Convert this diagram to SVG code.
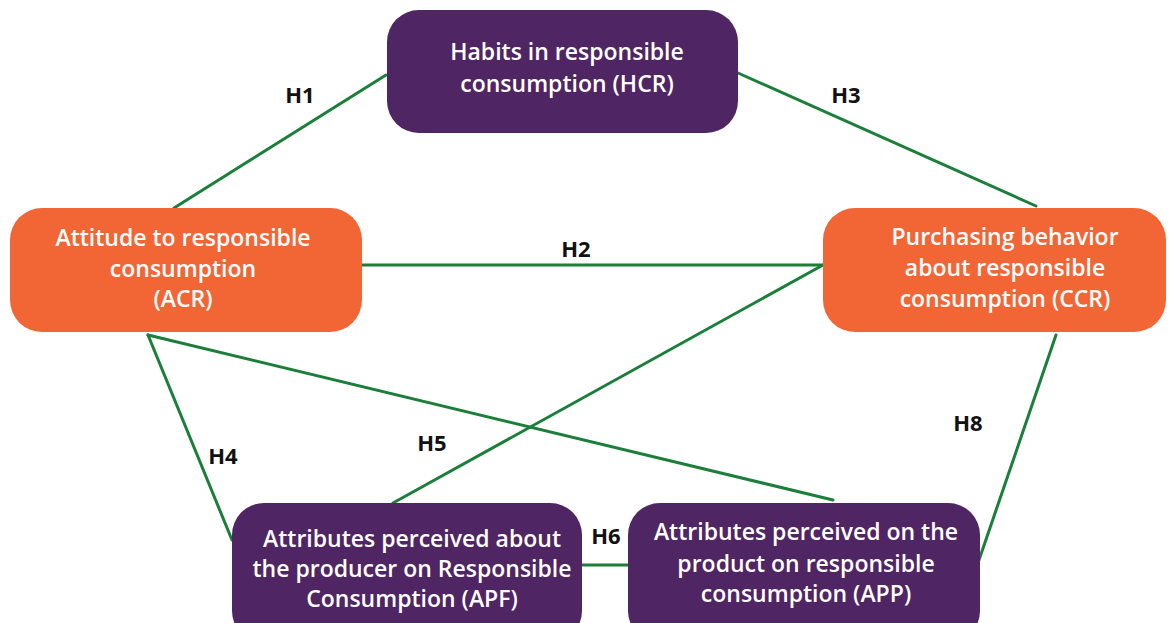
<svg xmlns="http://www.w3.org/2000/svg" width="1169" height="623" viewBox="0 0 1169 623">
  <style>
    .purple { fill: #4F2563; }
    .orange { fill: #F26535; }
    .nt { font-family: "Open Sans", "Liberation Sans", sans-serif; font-weight: 600; font-size: 23px; fill: #FFFFFF; text-anchor: middle; }
    .lbl { font-family: "Open Sans", "Liberation Sans", sans-serif; font-weight: 700; font-size: 22px; fill: #111111; text-anchor: middle; }
    .edge { stroke: #1B7F3A; stroke-width: 3; fill: none; stroke-linecap: round; }
  </style>
  <rect width="1169" height="623" fill="#FFFFFF"/>
  <g id="connectors">
    <line class="edge" x1="174" y1="208" x2="386" y2="75"/>
    <line class="edge" x1="738" y1="73" x2="1036" y2="206"/>
    <line class="edge" x1="362" y1="265" x2="823" y2="265"/>
    <line class="edge" x1="823" y1="265" x2="393" y2="503"/>
    <line class="edge" x1="148" y1="335" x2="833" y2="500"/>
    <line class="edge" x1="148" y1="335" x2="232" y2="540"/>
    <line class="edge" x1="582" y1="565" x2="628" y2="565"/>
    <line class="edge" x1="1056" y1="335" x2="979" y2="560"/>
    <text class="lbl" x="300" y="103">H1</text>
    <text class="lbl" x="846" y="103">H3</text>
    <text class="lbl" x="576" y="257">H2</text>
    <text class="lbl" x="432" y="451">H5</text>
    <text class="lbl" x="223" y="464">H4</text>
    <text class="lbl" x="606" y="544">H6</text>
    <text class="lbl" x="968" y="431">H8</text>
  </g>
  <g id="HCR">
    <rect class="purple" x="387" y="10" width="351" height="123" rx="32"/>
    <text class="nt" x="567" y="60">Habits in responsible</text>
    <text class="nt" x="567" y="92">consumption (HCR)</text>
  </g>
  <g id="ACR">
    <rect class="orange" x="10" y="208" width="352" height="124" rx="32"/>
    <text class="nt" x="183" y="246">Attitude to responsible</text>
    <text class="nt" x="183" y="277">consumption</text>
    <text class="nt" x="183" y="307">(ACR)</text>
  </g>
  <g id="CCR">
    <rect class="orange" x="823" y="208" width="343" height="124" rx="32"/>
    <text class="nt" x="1005" y="245">Purchasing behavior</text>
    <text class="nt" x="1005" y="276">about responsible</text>
    <text class="nt" x="1005" y="307">consumption (CCR)</text>
  </g>
  <g id="APF">
    <rect class="purple" x="232" y="503" width="350" height="140" rx="32"/>
    <text class="nt" x="412" y="547">Attributes perceived about</text>
    <text class="nt" x="412" y="577">the producer on Responsible</text>
    <text class="nt" x="412" y="607">Consumption (APF)</text>
  </g>
  <g id="APP">
    <rect class="purple" x="628" y="503" width="352" height="140" rx="32"/>
    <text class="nt" x="806" y="540">Attributes perceived on the</text>
    <text class="nt" x="806" y="572">product on responsible</text>
    <text class="nt" x="806" y="602">consumption (APP)</text>
  </g>
</svg>
